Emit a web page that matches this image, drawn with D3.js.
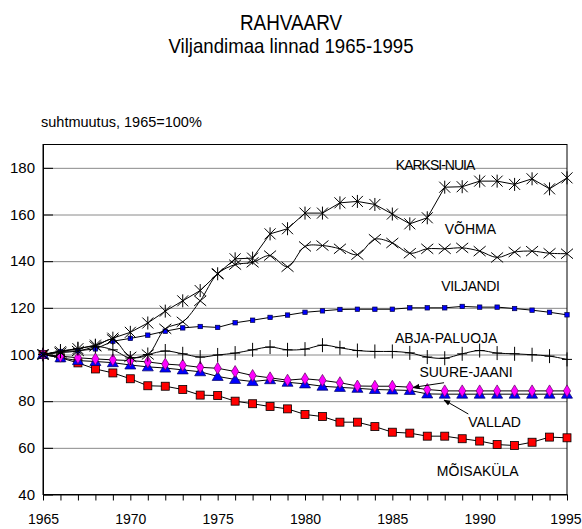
<!DOCTYPE html>
<html>
<head>
<meta charset="utf-8">
<style>
  body { margin: 0; background: #fff; }
  svg { font-family: "Liberation Sans", Arial, sans-serif; }
</style>
</head>
<body>
<svg width="582" height="529"></svg>
<script src="https://d3js.org/d3.v7.min.js"></script>
<script>

    // aastad 1965-1995
    var years = [1965, 1966, 1967, 1968, 1969, 1970, 1971, 1972, 1973, 1974,
                 1975, 1976, 1977, 1978, 1979, 1980, 1981, 1982, 1983, 1984,
                 1985, 1986, 1987, 1988, 1989, 1990, 1991, 1992, 1993, 1994, 1995];
    var yearLabels = [1965, 1970, 1975, 1980, 1985, 1990, 1995];
    var yTicks = [40, 60, 80, 100, 120, 140, 160, 180];

    var karksi = [100, 101.2, 102.5, 104, 107, 109.5, 113.5, 118.6, 123, 127.4,
                  134.6, 141, 141.3, 151.7, 153.9, 160.6, 160.6, 165, 165.6, 164.3,
                  160.2, 156, 158.6, 171.7, 171.9, 174.3, 174.3, 172.9, 175.3, 171, 175.7];
    var vohma = [100, 100.8, 101.5, 103.5, 106.5, 99, 100, 111, 114, 123,
                 134.6, 138.5, 139.5, 142.4, 137.6, 146.3, 146.7, 145.3, 142.8, 149.4,
                 147.8, 143.4, 145.3, 145.3, 145.7, 144.3, 141.6, 143.9, 144.3, 143.4, 143.2];
    var viljandi = [100, 101.3, 101.6, 102.4, 105.7, 106.9, 108.3, 110, 111.4, 112,
                    111.6, 113.6, 114.7, 115.9, 116.9, 118.1, 118.7, 119.3, 119.4, 119.4,
                    119.4, 120, 120, 120, 120.6, 120.3, 120.3, 119.7, 119, 118.1, 117];
    var abja = [100, 101.5, 102.5, 103.5, 102, 98.5, 100, 101.5, 100.3, 98.9,
                99.8, 100.6, 102, 103.2, 102, 102.3, 104, 102.9, 101.7, 101.3,
                101.3, 100.7, 98.9, 98.4, 100.3, 101.7, 100.6, 100.3, 99.9, 99.3, 97.9];
    var suure = [100, 99.3, 98.6, 98.1, 97.7, 97.4, 96.8, 95.9, 95.4, 94.5,
                 94.1, 92.7, 91, 90, 89, 89.6, 88.9, 87.9, 86.5, 86.4,
                 86.4, 86, 85, 84.4, 84.4, 84.4, 84.4, 84.4, 84.4, 84.4, 84.4];
    var vallad = [100, 98.6, 97.4, 97, 96.5, 95.5, 94.7, 94.2, 93.4, 92.6,
                  90.6, 89.3, 88.4, 89.2, 88.1, 87.4, 86.4, 85.9, 85.5, 85,
                  84.8, 84.6, 83.1, 83, 83, 83, 83, 83, 83, 83, 83];
    var moisakyla = [100, 98.6, 96.4, 93.8, 92.1, 89.6, 86.6, 86.4, 85, 82.6,
                     82.4, 80, 78.9, 77.7, 76.7, 74.3, 73.4, 71, 71, 69.1,
                     66.7, 66.3, 65, 65, 63.9, 62.9, 61.4, 61, 62.4, 64.6, 64.3];

    var svg = d3.select("svg");

    var x = d3.scaleLinear().domain([1965, 1995]).range([43, 567]);
    var y = d3.scaleLinear().domain([40, 190]).range([494.5, 144.5]);

    // pealkirjad (kitsendatud kiri)
    function narrow(txt, cx, cy, size, sx) {
        svg.append("text")
            .attr("transform", "translate(" + cx + "," + cy + ") scale(" + sx + ",1)")
            .attr("text-anchor", "middle")
            .style("font-size", size + "px")
            .text(txt);
    }
    narrow("RAHVAARV", 291, 30, 22, 0.86);
    narrow("Viljandimaa linnad 1965-1995", 291, 53, 20.5, 0.91);

    svg.append("text").attr("x", 41).attr("y", 127)
        .style("font-size", "14.5px").text("suhtmuutus, 1965=100%");

    // ruudustik
    svg.append("g")
        .attr("transform", "translate(" + x.range()[0] + ",0)")
        .call(d3.axisLeft(y).tickValues(yTicks.slice(1)).tickSize(-(x.range()[1] - x.range()[0])).tickFormat(""))
        .call(function(g) {
            g.select(".domain").remove();
            g.selectAll("line").attr("stroke", "#8a8a8a");
        });

    svg.append("rect")
        .attr("x", x.range()[0]).attr("y", y.range()[1])
        .attr("width", x.range()[1] - x.range()[0])
        .attr("height", y.range()[0] - y.range()[1])
        .attr("fill", "none").attr("stroke", "#000");

    var yAxis = svg.append("g")
        .attr("transform", "translate(" + x.range()[0] + ",0)")
        .call(d3.axisLeft(y).tickValues(yTicks).tickSize(-10).tickSizeOuter(0).tickPadding(8));
    yAxis.selectAll("text").style("font-size", "15px").attr("fill", "#000");

    var xAxis = svg.append("g")
        .attr("transform", "translate(0," + y.range()[0] + ")")
        .call(d3.axisBottom(x).tickValues(years).tickSize(6).tickSizeOuter(0).tickPadding(14)
            .tickFormat(function(d) { return yearLabels.indexOf(d) >= 0 ? d : ""; }));
    xAxis.selectAll("text").style("font-size", "14px").attr("fill", "#000");
    // viimane silt servale ära mahtuma
    xAxis.selectAll("text").filter(function(d) { return d == 1995; })
        .attr("text-anchor", "end").attr("x", 581 - x(1995));

    // jooned
    var series = [
        {name: "MÕISAKÜLA", values: moisakyla, marker: "redsq", curve: d3.curveLinear},
        {name: "VALLAD", values: vallad, marker: "triangle", curve: d3.curveLinear},
        {name: "SUURE-JAANI", values: suure, marker: "diamond", curve: d3.curveLinear},
        {name: "ABJA-PALUOJA", values: abja, marker: "plus", curve: d3.curveCatmullRom},
        {name: "VILJANDI", values: viljandi, marker: "bluesq", curve: d3.curveLinear},
        {name: "VÕHMA", values: vohma, marker: "cross", curve: d3.curveCatmullRom},
        {name: "KARKSI-NUIA", values: karksi, marker: "star", curve: d3.curveLinear}
    ];

    series.forEach(function(s) {
        var line = d3.line()
            .x(function(d, i) { return x(years[i]); })
            .y(function(d) { return y(d); })
            .curve(s.curve);
        svg.append("path")
            .attr("d", line(s.values))
            .attr("fill", "none")
            .attr("stroke", "#000")
            .attr("stroke-width", 1);

        var m = svg.append("g").selectAll("g")
            .data(s.values)
            .enter().append("g")
            .attr("transform", function(d, i) { return "translate(" + x(years[i]) + "," + y(d) + ")"; });

        if (s.marker == "redsq") {
            m.append("rect").attr("x", -4).attr("y", -4).attr("width", 8).attr("height", 8)
                .attr("fill", "#ff0000").attr("stroke", "#000").attr("stroke-width", 0.8);
        } else if (s.marker == "bluesq") {
            m.append("rect").attr("x", -2.2).attr("y", -2.2).attr("width", 4.4).attr("height", 4.4)
                .attr("fill", "#0000ff").attr("stroke", "#000040").attr("stroke-width", 0.7);
        } else if (s.marker == "triangle") {
            m.append("path").attr("d", "M0,-5L5.5,4L-5.5,4Z")
                .attr("fill", "#0000ff").attr("stroke", "#000060").attr("stroke-width", 0.7);
        } else if (s.marker == "diamond") {
            m.append("path").attr("d", "M0,-6L3.6,0L0,6L-3.6,0Z")
                .attr("fill", "#ff00ff").attr("stroke", "#600060").attr("stroke-width", 0.7);
        } else if (s.marker == "plus") {
            m.append("path").attr("d", "M0,-7V7M-5,0H5")
                .attr("stroke", "#000").attr("stroke-width", 1);
        } else if (s.marker == "cross") {
            m.append("path").attr("d", "M-6,-5L6,5M-6,5L6,-5")
                .attr("stroke", "#000").attr("stroke-width", 1);
        } else if (s.marker == "star") {
            m.append("path").attr("d", "M-5.5,-5.5L5.5,5.5M-5.5,5.5L5.5,-5.5M0,-6.5V6.5")
                .attr("stroke", "#000").attr("stroke-width", 1);
        }
    });

    // sildid
    var labels = [
        {text: "KARKSI-NUIA", year: 1985.2, value: 179.1, spacing: -1},
        {text: "VÕHMA", year: 1988.0, value: 151.7, spacing: 0},
        {text: "VILJANDI", year: 1987.8, value: 127.3, spacing: -0.4},
        {text: "ABJA-PALUOJA", year: 1985.15, value: 105.1, spacing: 0},
        {text: "SUURE-JAANI", year: 1986.55, value: 90.2, spacing: 0},
        {text: "VALLAD", year: 1989.35, value: 68.8, spacing: 0},
        {text: "MÕISAKÜLA", year: 1987.55, value: 48.1, spacing: 0}
    ];
    svg.append("g").selectAll("text")
        .data(labels)
        .enter().append("text")
        .attr("x", function(d) { return x(d.year); })
        .attr("y", function(d) { return y(d.value); })
        .style("font-size", "14px")
        .style("letter-spacing", function(d) { return d.spacing + "px"; })
        .text(function(d) { return d.text; });

    // nooled
    svg.append("defs").append("marker")
        .attr("id", "arrow")
        .attr("viewBox", "0 0 10 10")
        .attr("refX", 9).attr("refY", 5)
        .attr("markerWidth", 7).attr("markerHeight", 7)
        .attr("orient", "auto")
        .append("path").attr("d", "M0,1L10,5L0,9Z").attr("fill", "#000");

    var arrows = [
        {from: [1987.96, 87.9], to: [1986.2, 85.9]},
        {from: [1989.35, 74.5], to: [1987.96, 80.5]}
    ];
    svg.append("g").selectAll("line")
        .data(arrows)
        .enter().append("line")
        .attr("x1", function(d) { return x(d.from[0]); })
        .attr("y1", function(d) { return y(d.from[1]); })
        .attr("x2", function(d) { return x(d.to[0]); })
        .attr("y2", function(d) { return y(d.to[1]); })
        .attr("stroke", "#000")
        .attr("marker-end", "url(#arrow)");

</script>
</body>
</html>
